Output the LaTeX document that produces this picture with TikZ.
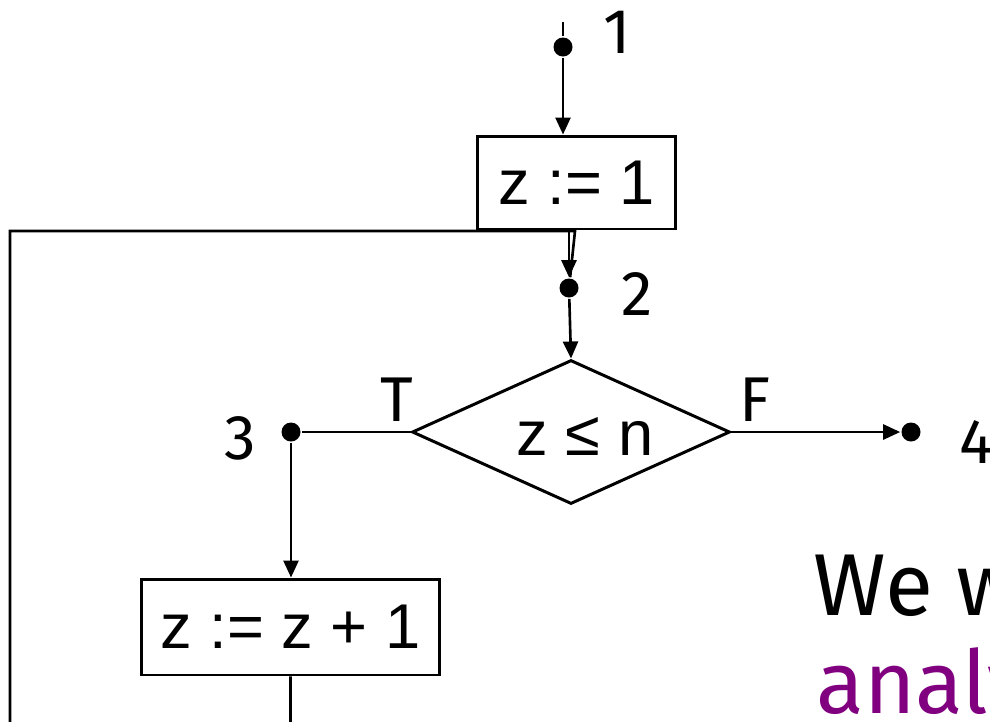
\documentclass[tikz,border=0pt]{standalone}
\usepackage{fontspec}
\usetikzlibrary{shapes.geometric,arrows.meta}
\newfontfamily\boxfont{Liberation Sans}
\newfontfamily\lblfont{Fira Sans}
\definecolor{slidepurple}{HTML}{800080}
\begin{document}
\begin{tikzpicture}[x=0.02cm,y=-0.02cm,
  line width=1.5pt,
  arr/.style={-{Triangle[length=0.34cm,width=0.3cm]}},
  stmt/.style={draw, rectangle, inner sep=0pt, line width=1.7pt, font=\boxfont\fontsize{36}{43}\selectfont},
  cond/.style={draw, diamond, inner sep=0pt, line width=1.7pt, minimum width=6.36cm, minimum height=2.88cm},
  dot/.style={circle, fill, inner sep=0pt, minimum size=0.38cm},
  lbl/.style={inner sep=0pt, font=\lblfont\fontsize{36}{43}\selectfont},
  slide/.style={inner sep=0pt, anchor=base west, font=\lblfont\fontsize{50}{60}\selectfont},
]
\useasboundingbox (0,0) rectangle (990,721);
\clip (0,0) rectangle (990,721);

% statements
\node[stmt, minimum width=3.98cm, minimum height=1.86cm] (b1) at (576.5,182.5) {z :=~1};
\node[stmt, minimum width=5.98cm, minimum height=1.92cm] (b2) at (290.5,627) {z := z + 1};
\node[cond] (dia) at (571,432) {};
\node[inner sep=0pt, anchor=base, font=\boxfont\fontsize{36}{43}\selectfont] (ctext) at (585,455) {z ≤ n};

% program points
\coordinate (s1) at (563,22);
\node[dot] (d1) at (563,47) {};
\node[dot] (d2) at (569,288) {};
\node[dot] (d3) at (291,432) {};
\node[dot] (d4) at (911,432) {};

% labels
\node[lbl] (l1) at (617,32) {1};
\node[lbl] (l2) at (637,294) {2};
\node[lbl] (l3) at (240,438) {3};
\node[lbl, anchor=west] (l4) at (958,442) {4};
\node[lbl] (lT) at (397,400) {T};
\node[lbl] (lF) at (755,400) {F};

% loop-back coordinates
\coordinate (lb) at (10,760);
\coordinate (lc) at (10,231);
\coordinate (lj) at (575,231);

% connectors
\draw (s1) -- (d1);
\draw[arr] (d1) -- (d1 |- b1.north);
\draw[arr] (b1.south -| d2) -- (d2);
\draw (b2.south) -- (b2.south |- lb) -- (lb) -- (lc) -- (lj) -- (d2);
\draw[arr] (d2) -- (dia.north);
\draw (dia.west) -- (d3);
\draw[arr] (d3) -- (d3 |- b2.north);
\draw[arr] (dia.east) -- (d4);

% slide text (cut off at the right edge, as in the reference)
\node[slide] (t1) at (812,615) {We w};
\node[slide, text=slidepurple] (t2) at (815,713) {analy};
\end{tikzpicture}
\end{document}
